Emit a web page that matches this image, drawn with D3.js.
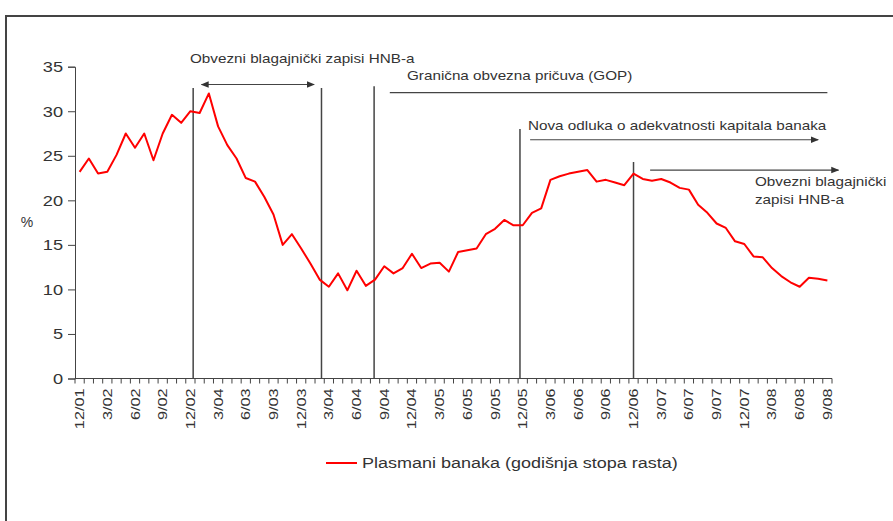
<!DOCTYPE html>
<html>
<head>
  <meta charset="utf-8">
  <title>Plasmani banaka</title>
  <script src="https://d3js.org/d3.v7.min.js"></script>
  <style>
    body { margin: 0; background: #fff; }
    text { font-family: "Liberation Sans", Arial, sans-serif; fill: #333; }
  </style>
</head>
<body>
<div id="vis"></div>
<script>
// mjesecni podaci, 12/01 - 9/08
var tickLabels = ["12/01","3/02","6/02","9/02","12/02","3/04","6/03","9/03","12/03","3/04",
  "6/04","9/04","12/04","3/05","6/05","9/05","12/05","3/06","6/06","9/06","12/06",
  "3/07","6/07","9/07","12/07","3/08","6/08","9/08"];

var plasmani = [23.2,24.7,23.0,23.2,25.1,27.5,25.9,27.5,24.5,27.5,29.6,28.7,
  30.0,29.8,32.0,28.3,26.2,24.7,22.5,22.1,20.4,18.4,15.0,16.2,
  14.6,12.9,11.1,10.3,11.8,9.9,12.1,10.4,11.1,12.6,11.8,12.4,
  14.0,12.4,12.9,13.0,12.0,14.2,14.4,14.6,16.2,16.8,17.8,17.2,
  17.2,18.6,19.1,22.3,22.7,23.0,23.2,23.4,22.1,22.3,22.0,21.7,
  23.0,22.4,22.2,22.4,22.0,21.4,21.2,19.5,18.6,17.4,16.9,15.4,
  15.1,13.7,13.6,12.4,11.5,10.8,10.3,11.3,11.2,11.0];

var yTicks = [0,5,10,15,20,25,30,35];

// vertikalne linije (mjesec, vrh u %)
var eventMonths = [12.3, 26.2, 31.9, 47.7, 60];
var eventTops = [32.6, 32.6, 32.8, 28.0, 24.3];

var w = 893, h = 521;
var svg = d3.select("#vis").append("svg").attr("width", w).attr("height", h);

svg.append("rect")
  .attr("x", 6).attr("y", 16).attr("width", 920).attr("height", 540)
  .attr("fill", "none").attr("stroke", "#444").attr("stroke-width", 2);

var n = plasmani.length;
var x = d3.scaleLinear().domain([-0.5, n - 0.5]).range([75, 832]);
var y = d3.scaleLinear().domain([0, 35]).range([378.5, 66.7]);

// y os
var yAxis = svg.append("g").attr("transform", "translate(75,0)")
  .call(d3.axisLeft(y).tickValues(yTicks).tickSize(7).tickPadding(0));
yAxis.selectAll("text")
  .attr("x", null).attr("dy", null)
  .attr("transform", "translate(-12,5) scale(1.3,1)")
  .style("font-size", "14px").attr("fill", "#444");
yAxis.selectAll("line, path").attr("stroke", "#444");

svg.append("text").attr("x", 27).attr("y", 227).attr("text-anchor", "middle")
  .style("font-size", "14px").text("%");

// x os
var xg = svg.append("g").attr("transform", "translate(0," + y(0) + ")");
xg.append("line").attr("x1", x(-0.5)).attr("x2", x(n - 0.5))
  .attr("stroke", "#444");
xg.selectAll("line.tk").data(d3.range(n + 1)).enter().append("line")
  .attr("class", "tk")
  .attr("x1", function(d) { return x(d - 0.5); })
  .attr("x2", function(d) { return x(d - 0.5); })
  .attr("y1", 0).attr("y2", 5).attr("stroke", "#444");
xg.selectAll("text").data(tickLabels).enter().append("text")
  .attr("transform", function(d, i) { return "translate(" + (x(i * 3) + 4.5) + ",10) rotate(-90) scale(1.3,1)"; })
  .attr("text-anchor", "end")
  .style("font-size", "12.5px").attr("fill", "#444")
  .text(function(d) { return d; });

// linije dogadaja
svg.selectAll("line.ev").data(eventMonths).enter().append("line")
  .attr("class", "ev")
  .attr("x1", function(d) { return x(d); })
  .attr("x2", function(d) { return x(d); })
  .attr("y1", function(d, i) { return y(eventTops[i]); })
  .attr("y2", y(0))
  .attr("stroke", "#444").attr("stroke-width", 1.5);

// strelice
var defs = svg.append("defs");
defs.append("marker").attr("id", "ah").attr("viewBox", "0 0 10 10")
  .attr("refX", 9).attr("refY", 5).attr("markerWidth", 8).attr("markerHeight", 8)
  .attr("markerUnits", "userSpaceOnUse")
  .attr("orient", "auto-start-reverse")
  .append("path").attr("d", "M0,1L10,5L0,9Z").attr("fill", "#333");

function arrow(m1, m2, v, start, end) {
  var l = svg.append("line")
    .attr("x1", x(m1)).attr("x2", x(m2)).attr("y1", y(v)).attr("y2", y(v))
    .attr("stroke", "#444").attr("stroke-width", 1.2);
  if (start) l.attr("marker-start", "url(#ah)");
  if (end) l.attr("marker-end", "url(#ah)");
}
arrow(13.2, 25.4, 33.0, true, true);
arrow(33.6, 81.0, 32.1, false, false);
arrow(48.8, 80.0, 26.8, false, true);
arrow(61.8, 82.2, 23.4, false, true);

function label(txt, xx, yy) {
  svg.append("text")
    .attr("transform", "translate(" + xx + "," + yy + ") scale(1.13,1)")
    .style("font-size", "13.5px").text(txt);
}
label("Obvezni blagajnički zapisi HNB-a", 190, 63);
label("Granična obvezna pričuva (GOP)", 407, 80);
label("Nova odluka o adekvatnosti kapitala banaka", 528, 130);
label("Obvezni blagajnički", 755, 186);
label("zapisi HNB-a", 755, 204);

// serija
svg.append("path").datum(plasmani)
  .attr("fill", "none").attr("stroke", "#ff0000").attr("stroke-width", 2)
  .attr("stroke-linejoin", "round")
  .attr("d", d3.line().x(function(d, i) { return x(i); }).y(function(d) { return y(d); }));

// legenda
svg.append("line").attr("x1", 326).attr("x2", 357).attr("y1", 463).attr("y2", 463)
  .attr("stroke", "#ff0000").attr("stroke-width", 2);
svg.append("text").attr("transform", "translate(362,468) scale(1.2,1)")
  .style("font-size", "15px").text("Plasmani banaka (godišnja stopa rasta)");
</script>
</body>
</html>
